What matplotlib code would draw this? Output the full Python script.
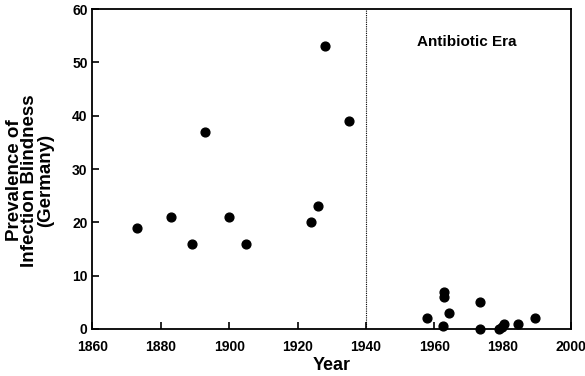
import matplotlib
matplotlib.use('Agg')
import matplotlib.pyplot as plt

plt.rcParams.update({
    'font.family': 'Liberation Sans',
    'font.weight': 'bold',
    'font.size': 10,
})

# Pre-antibiotic era
years_pre = [1873, 1883, 1889, 1893, 1900, 1905, 1924, 1926, 1928, 1935]
prev_pre = [19, 21, 16, 37, 21, 16, 20, 23, 53, 39]

# Antibiotic era
years_post = [1958, 1962.5, 1963, 1963, 1964.2, 1973.5, 1973.5, 1979, 1979.8, 1980.3, 1984.5, 1989.5]
prev_post = [2, 0.5, 7, 6, 3, 5, 0, 0, 0.3, 1, 1, 2]

ERA_START = 1940

fig = plt.figure(figsize=(5.85, 3.76), dpi=100)
ax = fig.add_axes([0.158, 0.125, 0.818, 0.851])

ax.scatter(years_pre + years_post, prev_pre + prev_post, s=40, color='black',
           zorder=3, clip_on=False)

ax.axvline(ERA_START, color='black', linestyle=(0, (1, 1)), linewidth=0.8)
ax.text(1969.5, 53.8, 'Antibiotic Era', ha='center', va='center', fontsize=11,
        fontweight='bold')

ax.set_xlim(1860, 2000)
ax.set_ylim(0, 60)
ax.set_xticks(range(1860, 2001, 20))
ax.set_yticks(range(0, 61, 10))
ax.tick_params(direction='in', length=5, width=1.2, labelsize=10)
ax.tick_params(axis='x', pad=8)
for s in ax.spines.values():
    s.set_linewidth(1.3)

ax.set_xlabel('Year', fontsize=13, fontweight='bold', labelpad=2)
ax.set_ylabel('Prevalence of\nInfection Blindness\n(Germany)', fontsize=13.5,
              fontweight='bold', linespacing=0.9, multialignment='center')
ax.yaxis.set_label_coords(-0.08, 0.465)

fig.savefig('out.png', dpi=100)
